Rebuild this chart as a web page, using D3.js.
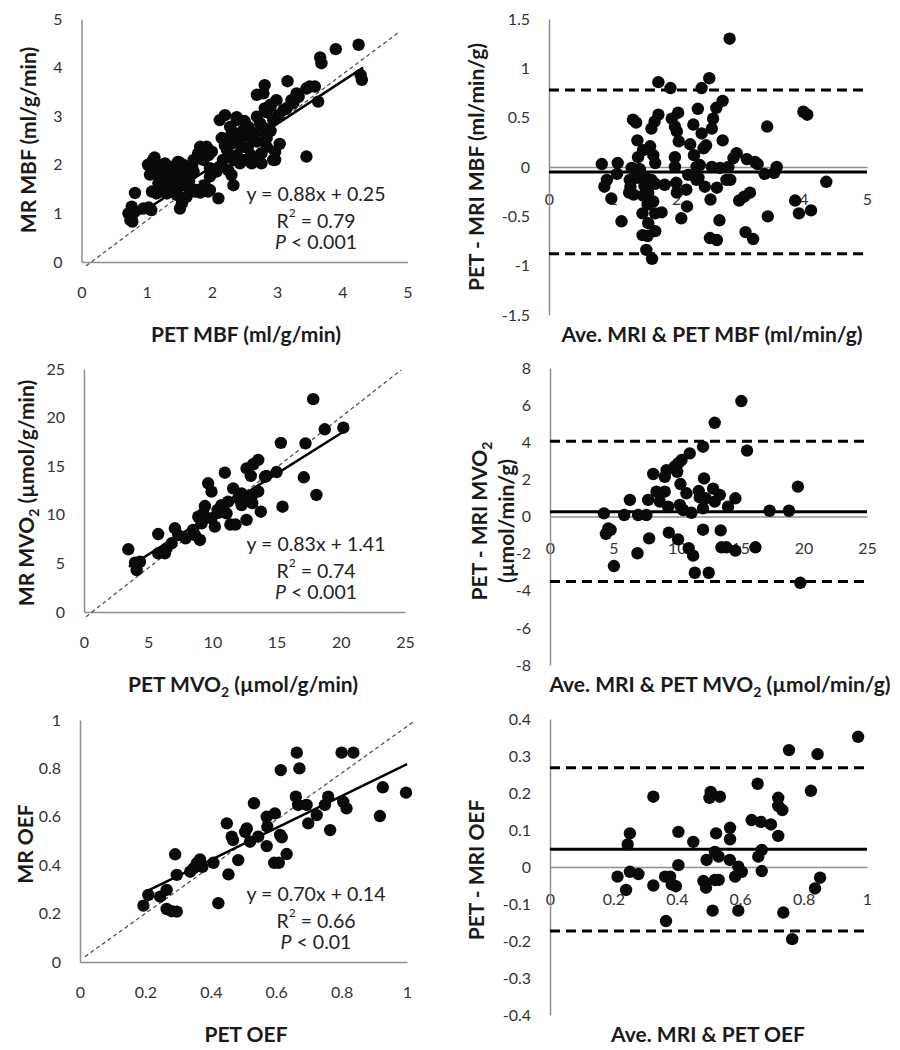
<!DOCTYPE html>
<html><head><meta charset="utf-8">
<script src="https://cdn.jsdelivr.net/npm/d3@7"></script>
<style>
body{margin:0;background:#fff;}
svg{display:block;font-family:Lato,"Open Sans",sans-serif;}
</style></head><body>
<svg id="c" width="900" height="1050"></svg>
<script>
// ---------------- DATA ----------------
// Panel A: PET MBF vs MR MBF
const mbfCorr = [[4.25,4.47],[3.9,4.38],[3.66,4.21],[3.68,4.09],[4.28,3.85],[4.3,3.75],[3.16,3.72],[3.5,3.61],[3.58,3.61],[3.63,3.3],[3.45,2.17],[2.81,3.64],[2.79,3.47],[3.3,3.47],[3.22,3.33],[2.99,3.33],[2.89,3.23],[2.81,3.16],[3.1,3.13],[3.02,3.02],[2.94,2.92],[2.69,2.99],[2.74,2.85],[2.81,2.75],[2.56,2.78],[2.48,2.71],[2.38,2.92],[2.2,3.02],[2.12,2.92],[2.28,2.78],[2.35,2.65],[2.25,2.55],[2.43,2.51],[2.58,2.58],[2.69,2.48],[2.84,2.55],[2.84,2.37],[3.04,2.43],[2.97,2.27],[2.76,2.24],[2.64,2.1],[2.76,2.03],[2.48,2.1],[2.38,2.2],[2.23,2.31],[2.33,2.1],[2.46,2.37],[2.17,2.1],[2.12,1.96],[2.25,1.89],[2.3,1.79],[2.33,1.58],[2.07,1.86],[1.97,1.93],[1.95,2.2],[1.82,2.37],[1.92,2.37],[2.0,2.27],[1.79,2.24],[1.72,2.1],[1.87,2.1],[1.97,1.76],[1.89,1.58],[1.97,1.48],[2.1,1.31],[1.77,1.48],[1.66,1.48],[1.51,1.1],[1.54,1.21],[1.61,1.34],[1.46,1.38],[1.31,1.41],[1.15,1.41],[1.08,1.45],[1.1,2.1],[1.08,1.96],[1.13,1.82],[1.28,2.03],[1.36,1.96],[1.48,2.06],[1.56,2.0],[1.64,1.93],[1.26,1.79],[1.41,1.76],[1.54,1.76],[1.66,1.76],[1.33,1.62],[1.46,1.62],[1.59,1.62],[1.72,1.86],[1.18,1.62],[0.82,1.42],[0.77,1.14],[0.79,1.0],[0.75,0.86],[0.72,1.0],[0.78,0.83],[0.95,1.1],[1.07,1.07],[1.03,1.12],[0.8,1.05],[1.94,1.45],[1.82,1.43],[1.74,1.45],[2.94,2.1],[2.61,2.03],[2.43,2.03],[2.38,2.98],[2.69,3.44],[2.9,3.2],[2.84,3.08],[3.15,3.17],[3.25,3.27],[3.33,3.4],[3.45,3.57],[1.02,2.0],[1.12,2.15],[1.2,1.9],[1.05,1.8],[1.2,1.5],[1.38,1.48],[1.5,1.55],[1.6,1.9],[1.5,2.05],[1.4,1.9],[1.7,2.0],[1.62,1.56],[1.25,1.45],[1.45,1.45],[2.33,2.45],[2.43,2.55],[2.97,2.1],[1.25,1.65],[1.35,1.85],[1.5,1.7],[1.65,1.65],[1.15,1.95],[1.3,1.5],[1.45,1.95],[2.55,2.35],[2.65,2.65],[2.5,2.9],[2.2,2.4],[2.6,2.2],[2.9,2.7],[2.15,2.55]];
const mbfFit = [[0.72,0.84],[4.32,4.0]];
const mbfIdentity = [[0.07,-0.08],[4.88,4.74]];

// Panel B: Bland-Altman MBF
const mbfBA = [[2.84,1.3],[2.52,0.9],[1.72,0.86],[1.91,0.8],[2.4,0.8],[2.73,0.67],[2.63,0.6],[2.34,0.59],[4.0,0.56],[4.06,0.53],[2.03,0.55],[1.72,0.53],[1.93,0.49],[1.32,0.48],[1.37,0.45],[1.66,0.46],[1.61,0.39],[2.58,0.49],[2.56,0.39],[2.27,0.43],[1.98,0.41],[2.01,0.36],[2.4,0.34],[3.43,0.41],[2.47,0.22],[2.43,0.19],[2.73,0.27],[1.39,0.27],[2.04,0.26],[2.22,0.23],[1.59,0.21],[1.48,0.17],[1.4,0.1],[1.64,0.12],[1.67,0.04],[1.98,0.1],[2.28,0.12],[2.37,0.02],[2.95,0.14],[2.9,0.09],[3.11,0.08],[3.24,0.05],[3.28,0.03],[3.58,0.0],[0.83,0.03],[1.08,0.04],[1.07,-0.07],[0.91,-0.13],[0.87,-0.2],[0.98,-0.32],[1.3,-0.01],[1.27,-0.13],[1.38,-0.11],[1.35,-0.05],[1.42,-0.02],[1.45,-0.08],[1.28,-0.2],[1.33,-0.28],[1.26,-0.26],[1.51,-0.1],[1.5,-0.19],[1.61,-0.13],[1.67,-0.17],[1.82,-0.18],[2.0,-0.16],[2.01,-0.26],[2.16,-0.23],[2.19,-0.08],[2.35,-0.11],[2.45,-0.2],[2.64,-0.21],[2.56,0.0],[2.69,-0.01],[2.82,0.0],[2.85,-0.13],[2.54,-0.33],[2.17,-0.4],[2.08,-0.52],[2.68,-0.54],[2.99,-0.34],[3.07,-0.3],[3.16,-0.26],[3.44,-0.5],[3.39,-0.07],[3.54,-0.06],[3.87,-0.34],[3.93,-0.47],[4.12,-0.44],[4.36,-0.15],[1.14,-0.55],[1.47,-0.47],[1.55,-0.38],[1.64,-0.35],[1.67,-0.47],[1.77,-0.46],[1.56,-0.57],[1.47,-0.69],[1.67,-0.65],[1.55,-0.7],[1.53,-0.84],[1.62,-0.93],[2.53,-0.72],[2.64,-0.74],[3.09,-0.66],[3.21,-0.73],[1.48,-0.29],[1.56,-0.26],[1.43,-0.03],[1.98,0.0],[2.32,0.0],[2.32,-0.13],[2.79,-0.13]];
const mbfBALines = [0.78, -0.05, -0.88]; // upper limit, mean, lower limit

// Panel C: PET MVO2 vs MR MVO2
const mvo2Corr = [[17.85,21.9],[18.75,18.8],[20.2,18.96],[15.33,17.4],[17.25,17.35],[17.12,13.86],[18.1,12.04],[15.46,10.83],[13.77,10.32],[12.66,9.47],[10.97,14.33],[13.57,15.64],[13.18,15.2],[12.66,14.78],[12.99,14.0],[14.2,14.0],[15.0,14.4],[9.67,13.24],[9.93,12.38],[11.62,12.72],[12.27,12.2],[12.0,11.7],[13.04,11.83],[13.57,12.4],[11.23,11.35],[10.71,11.0],[11.1,10.15],[10.45,10.2],[9.93,9.64],[12.27,11.35],[12.27,11.0],[9.42,10.9],[9.29,10.15],[8.9,9.8],[10.19,8.78],[9.16,9.12],[8.5,8.44],[9.03,7.41],[8.64,7.92],[7.91,7.58],[7.08,8.61],[7.34,7.92],[6.82,7.07],[6.43,6.55],[5.78,8.02],[5.78,6.04],[6.3,6.04],[3.45,6.45],[3.97,5.07],[4.36,5.17],[4.1,4.32],[11.4,9.0],[11.8,9.0],[13.1,11.2],[10.4,10.5],[14.1,13.9]];
const mvo2Fit = [[3.5,4.65],[20.2,18.55]];
const mvo2Identity = [[0.16,-0.48],[24.7,24.9]];

// Panel D: Bland-Altman MVO2
const mvo2BA = [[15.09,6.22],[12.99,5.05],[15.54,3.55],[12.07,3.76],[11.02,3.4],[10.37,3.04],[10.1,2.86],[9.84,2.68],[9.19,2.5],[8.14,2.29],[9.05,2.14],[10.03,2.41],[12.15,2.05],[19.55,1.61],[10.29,1.75],[8.4,1.34],[9.05,1.34],[10.76,1.25],[11.73,1.37],[12.86,1.5],[13.39,1.16],[11.81,1.03],[12.28,0.98],[12.99,0.8],[14.62,0.98],[6.3,0.89],[7.74,0.89],[8.66,0.8],[9.32,0.53],[10.24,0.62],[10.5,0.35],[11.15,0.2],[12.07,0.44],[14.04,0.53],[17.32,0.31],[18.85,0.31],[4.25,0.17],[5.85,0.08],[6.95,0.08],[7.6,0.08],[4.6,-0.64],[4.41,-0.94],[4.78,-0.72],[7.82,-1.18],[9.37,-0.87],[10.1,-1.23],[10.94,-1.71],[11.29,-2.11],[12.07,-0.71],[13.46,-0.75],[13.52,-1.66],[13.91,-1.66],[14.62,-1.84],[16.2,-1.66],[6.9,-1.98],[5.04,-2.67],[11.42,-3.03],[12.52,-3.03],[19.74,-3.57]];
const mvo2BALines = [4.05, 0.25, -3.5];

// Panel E: PET OEF vs MR OEF
const oefCorr = [[0.663,0.865],[0.8,0.865],[0.836,0.865],[0.614,0.793],[0.671,0.8],[0.926,0.722],[0.997,0.7],[0.532,0.656],[0.66,0.683],[0.667,0.649],[0.693,0.649],[0.759,0.683],[0.749,0.649],[0.805,0.662],[0.815,0.635],[0.724,0.607],[0.698,0.573],[0.765,0.545],[0.917,0.603],[0.449,0.573],[0.51,0.552],[0.505,0.538],[0.464,0.518],[0.468,0.504],[0.571,0.6],[0.596,0.614],[0.573,0.559],[0.545,0.518],[0.52,0.497],[0.612,0.525],[0.617,0.515],[0.571,0.479],[0.632,0.446],[0.594,0.41],[0.608,0.41],[0.484,0.421],[0.408,0.41],[0.367,0.424],[0.357,0.408],[0.347,0.387],[0.337,0.373],[0.374,0.393],[0.291,0.445],[0.296,0.36],[0.454,0.362],[0.265,0.298],[0.245,0.27],[0.209,0.277],[0.194,0.233],[0.265,0.219],[0.296,0.208],[0.423,0.243],[0.28,0.21]];
const oefFit = [[0.2,0.29],[1.0,0.818]];
const oefIdentity = [[0.015,0.022],[1.02,0.993]];

// Panel F: Bland-Altman OEF
const oefBA = [[0.972,0.352],[0.754,0.316],[0.844,0.305],[0.655,0.225],[0.326,0.19],[0.507,0.203],[0.503,0.187],[0.536,0.19],[0.823,0.206],[0.72,0.187],[0.72,0.165],[0.733,0.154],[0.636,0.127],[0.665,0.122],[0.697,0.115],[0.72,0.084],[0.252,0.091],[0.245,0.061],[0.405,0.095],[0.452,0.068],[0.524,0.091],[0.568,0.106],[0.568,0.075],[0.52,0.041],[0.532,0.028],[0.494,0.019],[0.668,0.046],[0.657,0.028],[0.567,0.019],[0.594,0.001],[0.605,-0.013],[0.584,-0.026],[0.405,0.005],[0.668,-0.011],[0.213,-0.026],[0.252,-0.013],[0.279,-0.019],[0.24,-0.062],[0.326,-0.05],[0.363,-0.026],[0.379,-0.026],[0.384,-0.047],[0.397,-0.052],[0.484,-0.038],[0.492,-0.056],[0.52,-0.035],[0.532,-0.035],[0.852,-0.029],[0.836,-0.058],[0.513,-0.118],[0.594,-0.118],[0.736,-0.123],[0.366,-0.146],[0.764,-0.195]];
const oefBALines = [0.268, 0.048, -0.173];

// Tick values
const mbfTicks = [0,1,2,3,4,5];
const mbfDiffTicks = [-1.5,-1,-0.5,0,0.5,1,1.5];
const mvo2Ticks = [0,5,10,15,20,25];
const mvo2DiffTicks = [-8,-6,-4,-2,0,2,4,6,8];
const oefTicks = [0,0.2,0.4,0.6,0.8,1];
const oefDiffTicks = [-0.4,-0.3,-0.2,-0.1,0,0.1,0.2,0.3,0.4];

// Regression annotations
const mbfStats = ["y = 0.88x + 0.25", "0.79", "< 0.001"];
const mvo2Stats = ["y = 0.83x + 1.41", "0.74", "< 0.001"];
const oefStats = ["y = 0.70x + 0.14", "0.66", "< 0.01"];

// ---------------- DRAWING ----------------
const svg = d3.select("#c");
const FONT = "Lato, 'Open Sans', sans-serif";
const fmt = d => String(d);

function titleText(g, x, y, parts, rotate) {
  const t = g.append("text")
    .attr("x", x).attr("y", y)
    .attr("text-anchor", "middle")
    .attr("dominant-baseline", "central")
    .attr("font-family", FONT)
    .attr("font-weight", "bold")
    .attr("font-size", 21)
    .attr("fill", "#1a1a1a");
  if (rotate) t.attr("transform", `rotate(-90,${x},${y})`);
  parts.forEach(p => {
    const s = t.append("tspan").text(p.t);
    if (p.sub) s.attr("baseline-shift", "sub").attr("font-size", 14);
  });
  return t;
}

function drawPanel(p) {
  const x = d3.scaleLinear().domain(p.xDomain).range(p.xRange);
  const y = d3.scaleLinear().domain(p.yDomain).range(p.yRange);
  const g = svg.append("g");

  const gx = g.append("g").attr("transform", `translate(0,${y(0)})`)
    .call(d3.axisBottom(x).tickValues(p.xTicks).tickFormat(fmt).tickSize(0).tickSizeOuter(0).tickPadding(p.xPad));
  const gy = g.append("g").attr("transform", `translate(${x(0)},0)`)
    .call(d3.axisLeft(y).tickValues(p.yTicks).tickFormat(fmt).tickSize(0).tickSizeOuter(0).tickPadding(19));
  [gx, gy].forEach(a => {
    a.attr("font-family", FONT).attr("font-size", 16);
    a.select(".domain").attr("stroke", "#8f8f8f").attr("stroke-width", 1.5);
    a.selectAll(".tick text").attr("fill", "#333");
  });

  const line = d3.line().x(d => x(d[0])).y(d => y(d[1]));

  if (p.identity) {
    g.append("path").datum(p.identity).attr("d", line)
      .attr("fill", "none").attr("stroke", "#555").attr("stroke-width", 1.3).attr("stroke-dasharray", "4,3");
  }
  if (p.fit) {
    g.append("path").datum(p.fit).attr("d", line)
      .attr("fill", "none").attr("stroke", "#000").attr("stroke-width", 2.5);
  }
  if (p.baLines) {
    const xs = p.xDomain;
    p.baLines.forEach((v, i) => {
      g.append("path").datum([[xs[0], v], [xs[1], v]]).attr("d", line)
        .attr("fill", "none").attr("stroke", "#000").attr("stroke-width", 3)
        .attr("stroke-dasharray", i === 1 ? null : "10,6");
    });
  }

  g.append("g").selectAll("circle").data(p.points).join("circle")
    .attr("cx", d => x(d[0])).attr("cy", d => y(d[1])).attr("r", 6.2)
    .attr("fill", "#0a0a0a");

  if (p.stats) {
    const cx = 316, top = p.top;
    const a = { "font-family": FONT, "font-size": 19.5, "fill": "#222", "text-anchor": "middle", "dominant-baseline": "central" };
    const t1 = g.append("text").attr("x", cx).attr("y", top + 193);
    const t2 = g.append("text").attr("x", cx).attr("y", top + 220);
    const t3 = g.append("text").attr("x", cx).attr("y", top + 241);
    [t1, t2, t3].forEach(t => Object.entries(a).forEach(([k, v]) => t.attr(k, v)));
    t1.text(p.stats[0]);
    t2.append("tspan").text("R");
    t2.append("tspan").text("2").attr("baseline-shift", "super").attr("font-size", 12);
    t2.append("tspan").text(" = " + p.stats[1]);
    t3.append("tspan").text("P").attr("font-style", "italic");
    t3.append("tspan").text(" " + p.stats[2]);
  }

  p.xTitle && titleText(g, p.xTitle.x, p.xTitle.y, p.xTitle.parts, false);
  (p.yTitles || []).forEach(tt => titleText(g, tt.x, tt.y, tt.parts, true));
}

// Panel A
drawPanel({
  top: 0,
  xDomain: [0, 5], xRange: [81.5, 407.5], yDomain: [0, 5], yRange: [262, 19],
  xTicks: mbfTicks, yTicks: mbfTicks, xPad: 25,
  points: mbfCorr, fit: mbfFit, identity: mbfIdentity, stats: mbfStats,
  xTitle: { x: 246, y: 333, parts: [{ t: "PET MBF (ml/g/min)" }] },
  yTitles: [{ x: 27, y: 140, parts: [{ t: "MR MBF (ml/g/min)" }] }]
});
// Panel B
drawPanel({
  top: 0,
  xDomain: [0, 5], xRange: [549, 867], yDomain: [-1.5, 1.5], yRange: [315, 19],
  xTicks: mbfTicks, yTicks: mbfDiffTicks, xPad: 27,
  points: mbfBA, baLines: mbfBALines,
  xTitle: { x: 712, y: 333, parts: [{ t: "Ave. MRI & PET MBF (ml/min/g)" }] },
  yTitles: [{ x: 475, y: 167, parts: [{ t: "PET - MRI MBF (ml/min/g)" }] }]
});
// Panel C
drawPanel({
  top: 350,
  xDomain: [0, 25], xRange: [84, 405], yDomain: [0, 25], yRange: [612, 369],
  xTicks: mvo2Ticks, yTicks: mvo2Ticks, xPad: 25,
  points: mvo2Corr, fit: mvo2Fit, identity: mvo2Identity, stats: mvo2Stats,
  xTitle: { x: 243, y: 683, parts: [{ t: "PET MVO" }, { t: "2", sub: true }, { t: " (µmol/g/min)" }] },
  yTitles: [{ x: 25, y: 493, parts: [{ t: "MR MVO" }, { t: "2", sub: true }, { t: " (µmol/g/min)" }] }]
});
// Panel D
drawPanel({
  top: 350,
  xDomain: [0, 25], xRange: [550, 867], yDomain: [-8, 8], yRange: [665, 368],
  xTicks: mvo2Ticks, yTicks: mvo2DiffTicks, xPad: 26,
  points: mvo2BA, baLines: mvo2BALines,
  xTitle: { x: 720, y: 683, parts: [{ t: "Ave. MRI & PET MVO" }, { t: "2", sub: true }, { t: " (µmol/min/g)" }] },
  yTitles: [{ x: 478, y: 521, parts: [{ t: "PET - MRI MVO" }, { t: "2", sub: true }] },
            { x: 505, y: 521, parts: [{ t: "(µmol/min/g)" }] }]
});
// Panel E
drawPanel({
  top: 700,
  xDomain: [0, 1], xRange: [80, 407], yDomain: [0, 1], yRange: [962, 720],
  xTicks: oefTicks, yTicks: oefTicks, xPad: 25,
  points: oefCorr, fit: oefFit, identity: oefIdentity, stats: oefStats,
  xTitle: { x: 246, y: 1033, parts: [{ t: "PET OEF" }] },
  yTitles: [{ x: 24, y: 844, parts: [{ t: "MR OEF" }] }]
});
// Panel F
drawPanel({
  top: 700,
  xDomain: [0, 1], xRange: [550, 867], yDomain: [-0.4, 0.4], yRange: [1015, 719],
  xTicks: oefTicks, yTicks: oefDiffTicks, xPad: 27,
  points: oefBA, baLines: oefBALines,
  xTitle: { x: 708, y: 1033, parts: [{ t: "Ave. MRI & PET OEF" }] },
  yTitles: [{ x: 475, y: 870, parts: [{ t: "PET - MRI OEF" }] }]
});
</script>
</body></html>
